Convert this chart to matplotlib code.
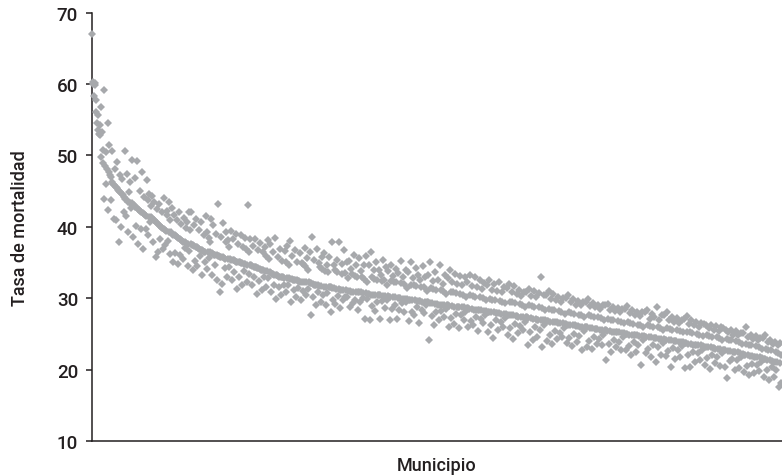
import matplotlib
matplotlib.use("Agg")
import matplotlib.pyplot as plt
import numpy as np

# Tasa de mortalidad por municipio, en el orden de la serie (rango 1..N)
tasa_1 = [
    67.0, 60.0, 60.2, 58.3, 60.1, 59.8, 57.8, 56.0, 54.5, 55.6, 53.6, 53.0, 54.2, 52.8, 56.8, 49.8,
    53.3, 48.9, 50.8, 59.2, 43.9, 48.5, 46.0, 50.5, 48.1, 54.5, 42.4, 47.6, 51.4, 47.2, 43.8, 46.9,
    46.3, 50.6, 46.0, 41.1, 45.9, 48.1, 45.6, 40.9, 45.4, 49.1, 45.2, 37.9, 45.0, 47.3, 44.8, 40.0,
    44.6, 46.7, 44.4, 42.0, 44.2, 50.6, 43.9, 41.5, 43.7, 47.4, 43.5, 39.2, 44.9, 43.3, 46.2, 42.6,
    43.3, 49.4, 43.1, 38.6, 43.0, 46.8, 42.8, 40.1, 42.7, 49.2, 42.5, 37.6, 42.4, 45.0, 42.2, 39.7,
    42.1, 47.7, 41.9, 36.9, 41.8, 44.1, 41.6, 39.7, 41.5, 46.5, 43.8, 38.9, 41.4, 44.6, 40.6, 42.9,
    41.4, 44.3, 41.2, 37.8, 41.0, 43.5, 40.8, 35.8, 40.7, 42.5, 40.5, 36.5, 40.3, 43.2, 40.1, 38.3,
    40.0, 42.0, 39.8, 36.9, 39.7, 44.0, 39.5, 37.4, 39.4, 41.6, 42.2, 38.0, 39.3, 43.5, 36.2, 40.9,
    39.2, 42.6, 39.0, 35.1, 38.9, 41.6, 38.8, 36.3, 38.7, 40.9, 38.5, 34.8, 38.4, 42.1, 38.3, 36.0,
    38.2, 40.4, 38.0, 35.5, 37.9, 41.2, 37.8, 37.0, 37.7, 39.8, 40.6, 34.5, 37.6, 42.1, 36.6, 39.5,
]
tasa_2 = [
    37.6, 42.1, 37.5, 33.9, 37.4, 40.3, 37.3, 35.2, 37.2, 41.1, 37.1, 34.5, 37.0, 39.6, 36.9, 35.9,
    36.8, 40.6, 36.7, 33.3, 36.6, 38.9, 36.5, 35.0, 36.5, 41.5, 39.2, 34.1, 36.4, 38.4, 35.6, 37.9,
    36.4, 41.1, 36.3, 33.2, 36.2, 40.2, 36.1, 34.6, 36.1, 39.0, 36.0, 32.5, 35.9, 43.2, 35.9, 30.9,
    35.8, 38.6, 35.7, 32.0, 35.7, 40.5, 35.6, 34.2, 35.5, 37.8, 39.3, 33.0, 35.5, 38.2, 34.4, 37.1,
    35.5, 39.4, 35.4, 32.5, 35.3, 38.3, 35.3, 33.6, 35.2, 39.0, 35.1, 31.3, 35.1, 37.6, 35.0, 33.0,
    35.0, 38.8, 34.9, 31.8, 34.9, 37.1, 34.8, 33.8, 34.8, 38.4, 36.9, 32.2, 34.7, 43.1, 33.4, 36.5,
    34.6, 38.3, 34.6, 31.8, 34.5, 37.3, 34.4, 33.0, 34.4, 38.3, 34.3, 30.6, 34.2, 36.8, 34.2, 32.4,
    34.1, 37.7, 34.0, 31.2, 33.9, 36.4, 33.9, 32.9, 33.8, 37.2, 35.9, 31.6, 33.8, 38.1, 32.8, 35.5,
    33.6, 37.6, 33.5, 30.8, 33.4, 36.4, 33.4, 31.9, 33.3, 38.4, 33.2, 29.9, 33.2, 35.7, 33.1, 31.5,
    33.0, 36.9, 33.0, 30.4, 32.9, 35.2, 32.9, 31.9, 32.8, 36.6, 35.1, 30.9, 32.8, 37.3, 31.8, 34.6,
]
tasa_3 = [
    32.8, 38.0, 32.7, 29.5, 32.7, 35.9, 32.6, 31.1, 32.6, 36.8, 32.5, 30.2, 32.5, 35.1, 32.4, 31.4,
    32.4, 36.3, 32.3, 29.8, 32.3, 34.9, 34.8, 31.0, 32.2, 37.0, 34.5, 30.5, 32.2, 35.6, 31.3, 33.9,
    32.2, 36.4, 32.1, 27.7, 32.1, 38.5, 32.0, 30.2, 31.9, 35.3, 31.9, 29.1, 31.8, 36.9, 31.8, 30.8,
    31.7, 34.9, 34.3, 29.5, 31.7, 35.8, 34.1, 30.4, 31.6, 36.3, 33.8, 29.0, 31.6, 34.6, 30.7, 33.6,
    31.6, 35.7, 31.5, 28.0, 31.5, 37.8, 31.4, 29.8, 31.4, 34.6, 33.9, 29.2, 31.3, 35.4, 33.6, 30.3,
    31.3, 37.9, 31.2, 28.6, 31.2, 34.8, 33.4, 29.7, 31.1, 36.8, 33.5, 30.1, 31.1, 35.0, 30.2, 32.8,
    31.0, 35.2, 31.0, 28.7, 30.9, 34.1, 33.4, 29.3, 30.9, 36.0, 33.1, 29.8, 30.9, 34.7, 33.0, 28.4,
    30.8, 35.6, 30.8, 29.5, 30.8, 33.8, 32.9, 30.0, 30.7, 34.6, 32.7, 27.1, 30.7, 35.9, 29.9, 32.2,
    30.6, 34.6, 30.6, 27.0, 30.5, 36.4, 32.9, 28.9, 30.5, 33.9, 32.7, 28.2, 30.5, 35.0, 32.6, 29.4,
    30.4, 34.0, 30.4, 27.1, 30.4, 33.3, 32.4, 29.6, 30.3, 35.3, 32.5, 28.6, 30.3, 34.4, 29.7, 31.8,
]
tasa_4 = [
    30.3, 33.8, 30.2, 27.0, 30.2, 34.6, 32.4, 28.5, 30.1, 33.1, 32.3, 29.0, 30.1, 34.1, 32.2, 27.1,
    30.0, 33.5, 30.0, 28.4, 30.0, 35.2, 32.1, 29.3, 29.9, 33.0, 32.0, 28.0, 29.9, 34.0, 29.4, 31.4,
    29.9, 33.6, 29.8, 26.8, 29.8, 35.0, 31.9, 28.1, 29.7, 32.8, 31.8, 27.7, 29.7, 34.2, 31.7, 28.8,
    29.6, 33.2, 29.6, 26.5, 29.6, 32.6, 31.6, 28.3, 29.5, 34.5, 31.5, 27.9, 29.5, 33.0, 29.0, 31.0,
    29.4, 33.2, 29.4, 24.2, 29.3, 35.1, 31.4, 27.5, 29.3, 32.4, 31.3, 26.3, 29.2, 33.7, 31.2, 28.0,
    29.2, 32.6, 29.1, 27.0, 29.1, 34.6, 31.1, 28.2, 29.1, 32.0, 31.0, 27.3, 29.0, 33.3, 28.5, 30.6,
    29.0, 32.8, 29.0, 26.0, 28.9, 33.9, 30.9, 27.2, 28.9, 32.2, 30.8, 26.4, 28.8, 33.4, 30.7, 27.8,
    28.8, 32.0, 28.8, 25.8, 28.7, 33.1, 30.6, 27.6, 28.7, 31.8, 30.5, 26.9, 28.7, 32.9, 28.1, 30.2,
    28.6, 32.3, 28.6, 25.9, 28.5, 33.2, 30.4, 26.8, 28.5, 31.7, 30.3, 26.2, 28.4, 32.9, 30.2, 27.4,
    28.4, 31.5, 28.3, 25.4, 28.3, 32.5, 30.1, 27.1, 28.3, 31.3, 30.0, 26.5, 28.2, 32.1, 27.7, 29.8,
]
tasa_5 = [
    28.2, 31.8, 28.1, 25.2, 28.1, 32.6, 29.9, 26.3, 28.0, 31.2, 29.8, 24.4, 28.0, 32.0, 29.7, 26.9,
    27.9, 31.0, 27.9, 25.6, 27.9, 32.3, 29.6, 26.6, 27.8, 30.8, 29.5, 25.9, 27.8, 31.6, 27.2, 29.3,
    27.8, 31.4, 27.7, 24.8, 27.7, 32.0, 29.5, 25.8, 27.6, 30.8, 29.4, 24.3, 27.6, 31.7, 29.3, 26.4,
    27.5, 30.6, 27.5, 25.1, 27.4, 31.2, 29.2, 26.1, 27.4, 30.3, 29.0, 25.5, 27.4, 30.9, 26.7, 28.8,
    27.3, 30.9, 27.3, 23.5, 27.2, 31.3, 29.0, 25.3, 27.2, 30.3, 28.9, 24.1, 27.1, 31.0, 28.8, 25.9,
    27.1, 30.1, 27.0, 24.6, 27.0, 30.7, 28.7, 25.6, 26.9, 33.0, 28.6, 23.2, 26.9, 30.4, 26.2, 28.3,
    26.9, 30.5, 26.8, 24.0, 26.8, 31.0, 28.5, 24.8, 26.7, 29.9, 28.4, 23.6, 26.7, 30.6, 28.3, 25.4,
    26.6, 29.7, 26.6, 24.3, 26.5, 30.2, 28.2, 25.1, 26.5, 29.5, 28.1, 24.5, 26.5, 30.0, 25.8, 27.8,
    26.4, 30.0, 26.4, 23.7, 26.3, 30.4, 28.0, 24.4, 26.3, 29.4, 27.9, 23.3, 26.2, 29.9, 27.8, 25.0,
    26.2, 29.1, 26.1, 23.9, 26.1, 29.6, 27.7, 24.7, 26.0, 29.0, 27.6, 22.7, 26.0, 29.5, 25.4, 27.4,
]
tasa_6 = [
    26.0, 29.5, 25.9, 23.2, 25.9, 29.9, 27.6, 24.0, 25.8, 28.9, 27.5, 22.9, 25.8, 29.3, 27.4, 24.6,
    25.7, 28.7, 25.7, 23.6, 25.7, 29.1, 27.3, 24.3, 25.6, 28.5, 27.2, 23.4, 25.6, 29.0, 24.9, 27.0,
    25.5, 29.0, 25.5, 21.4, 25.4, 29.2, 27.1, 23.6, 25.4, 28.4, 27.0, 22.5, 25.3, 28.8, 26.9, 24.2,
    25.3, 28.2, 25.2, 23.1, 25.2, 28.6, 26.8, 23.9, 25.2, 28.0, 26.7, 22.8, 25.1, 28.5, 24.5, 26.5,
    25.1, 28.5, 25.0, 22.7, 25.0, 28.9, 26.6, 23.3, 24.9, 27.9, 26.5, 22.1, 24.9, 28.3, 26.4, 23.8,
    24.8, 27.7, 24.8, 22.4, 24.8, 28.1, 26.3, 23.5, 24.7, 27.5, 26.2, 20.6, 24.7, 28.0, 24.1, 26.0,
    24.7, 28.0, 24.6, 22.3, 24.6, 28.4, 26.2, 22.9, 24.5, 27.1, 26.1, 21.7, 24.5, 27.8, 26.0, 23.4,
    24.4, 27.3, 24.4, 21.0, 24.4, 28.8, 25.9, 23.1, 24.3, 27.0, 25.8, 22.0, 24.3, 27.6, 23.7, 25.6,
    24.3, 27.6, 24.2, 21.9, 24.2, 28.0, 25.8, 22.6, 24.1, 26.9, 25.7, 20.4, 24.1, 27.4, 25.6, 23.0,
    24.0, 26.7, 24.0, 21.5, 24.0, 27.2, 25.5, 22.8, 23.9, 26.5, 25.4, 21.8, 23.9, 27.0, 23.3, 25.2,
]
tasa_7 = [
    23.8, 27.1, 23.7, 20.2, 23.7, 27.5, 25.3, 22.1, 23.6, 26.4, 25.2, 20.4, 23.6, 26.9, 25.1, 22.5,
    23.5, 26.2, 23.5, 21.1, 23.5, 26.7, 25.0, 22.3, 23.4, 26.0, 24.9, 21.4, 23.4, 26.5, 22.8, 24.7,
    23.3, 26.4, 23.2, 20.7, 23.2, 26.2, 24.8, 21.6, 23.1, 25.8, 24.7, 20.1, 23.1, 26.3, 24.6, 22.0,
    23.0, 25.6, 23.0, 20.9, 22.9, 26.1, 24.5, 21.8, 22.9, 25.4, 24.4, 20.5, 22.9, 25.9, 22.3, 24.2,
    22.8, 25.8, 22.7, 20.3, 22.7, 25.5, 24.3, 18.8, 22.6, 25.2, 24.2, 21.2, 22.6, 25.6, 24.1, 21.5,
    22.5, 24.9, 22.5, 19.9, 22.4, 25.4, 24.0, 21.3, 22.4, 24.8, 23.9, 20.2, 22.3, 25.1, 21.7, 23.6,
    22.2, 25.1, 22.1, 19.6, 22.1, 26.0, 23.6, 20.5, 22.0, 24.6, 23.5, 19.2, 21.9, 24.9, 23.4, 20.8,
    21.9, 24.3, 21.8, 19.5, 21.8, 24.7, 23.3, 20.6, 21.7, 24.1, 23.2, 19.8, 21.7, 24.4, 21.1, 22.9,
    21.6, 24.4, 21.5, 19.0, 21.5, 24.8, 22.9, 19.9, 21.4, 23.8, 22.8, 18.6, 21.3, 24.1, 22.7, 20.3,
    21.2, 23.6, 21.1, 18.9, 21.1, 23.9, 22.5, 20.0, 21.0, 23.4, 22.3, 17.6, 20.9, 23.7, 18.1, 22.0,
]

tasa = np.array(tasa_1 + tasa_2 + tasa_3 + tasa_4 + tasa_5 + tasa_6 + tasa_7)
municipio = np.arange(1, len(tasa) + 1)

y_ticks = [10, 20, 30, 40, 50, 60, 70]

fuente = ["Roboto", "Liberation Sans", "DejaVu Sans"]
tinta = "#231f20"
gris = "#a7a9ac"

W, H = 782, 477
fig = plt.figure(figsize=(W / 100, H / 100), dpi=100)
ax = fig.add_axes([92 / W, 35 / H, 690 / W, 428.5 / H])

ax.plot(municipio, tasa, linestyle="none", marker="D", markersize=3.7,
        markeredgewidth=0, color=gris, clip_on=False, zorder=3)

ax.set_xlim(0.8, len(tasa) + 1)
ax.set_ylim(10, 70)
ax.set_yticks(y_ticks)
ax.set_xticks([])

for side in ("top", "right"):
    ax.spines[side].set_visible(False)
for side in ("left", "bottom"):
    ax.spines[side].set_color(tinta)
    ax.spines[side].set_linewidth(1.1)

ax.tick_params(axis="y", direction="out", length=4, width=1.1, color=tinta,
               pad=6, labelsize=13.5, labelcolor=tinta)
for lab in ax.get_yticklabels():
    lab.set_family(fuente)
    lab.set_fontweight("medium")

ax.set_ylabel("Tasa de mortalidad", family=fuente, fontsize=13, color=tinta,
              fontweight="medium", labelpad=20)
ax.set_xlabel("Municipio", family=fuente, fontsize=13, color=tinta,
              fontweight="medium", labelpad=11)

fig.savefig("out.png", dpi=100)
